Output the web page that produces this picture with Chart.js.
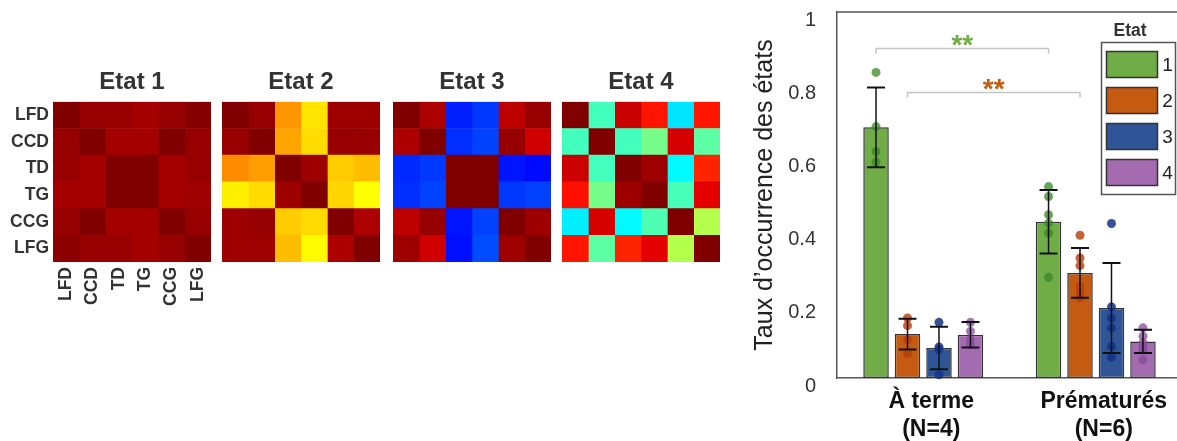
<!DOCTYPE html>
<html lang="fr">
<head>
<meta charset="utf-8">
<title>Etats - taux d'occurrence</title>
<script src="https://cdn.jsdelivr.net/npm/chart.js@4.4.0/dist/chart.umd.min.js"></script>
<style>
  html, body { margin: 0; padding: 0; background: #fff; width: 1177px; height: 441px; overflow: hidden; }
  canvas { position: absolute; }
</style>
</head>
<body>
<canvas id="etat1" width="211" height="242" style="left:0px;top:68px"></canvas>
<canvas id="etat2" width="158" height="242" style="left:222px;top:68px"></canvas>
<canvas id="etat3" width="158" height="242" style="left:393px;top:68px"></canvas>
<canvas id="etat4" width="158" height="242" style="left:562px;top:68px"></canvas>
<canvas id="taux" width="460" height="441" style="left:740px;top:0px"></canvas>
<script>
// Régions (lignes et colonnes des matrices)
var regions = ['LFD', 'CCD', 'TD', 'TG', 'CCG', 'LFG'];

var matEtat1 = [
    [1.000, 0.978, 0.978, 0.963, 0.978, 0.995],
    [0.978, 1.000, 0.963, 0.963, 1.000, 0.978],
    [0.978, 0.963, 1.000, 1.000, 0.963, 0.978],
    [0.963, 0.963, 1.000, 1.000, 0.963, 0.968],
    [0.978, 1.000, 0.963, 0.963, 1.000, 0.978],
    [0.988, 0.978, 0.978, 0.963, 0.978, 1.000]
];
var matEtat2 = [
    [1.000, 0.978, 0.728, 0.650, 0.970, 0.970],
    [0.975, 1.000, 0.713, 0.659, 0.978, 0.975],
    [0.738, 0.720, 1.000, 0.970, 0.675, 0.690],
    [0.640, 0.660, 0.970, 1.000, 0.665, 0.625],
    [0.970, 0.978, 0.675, 0.660, 1.000, 0.955],
    [0.970, 0.970, 0.690, 0.630, 0.955, 1.000]
];
var matEtat3 = [
    [1.000, 0.955, 0.155, 0.180, 0.940, 0.978],
    [0.955, 1.000, 0.170, 0.190, 0.978, 0.920],
    [0.165, 0.180, 1.000, 1.000, 0.145, 0.135],
    [0.170, 0.190, 1.000, 1.000, 0.180, 0.190],
    [0.940, 0.978, 0.145, 0.190, 1.000, 0.970],
    [0.970, 0.920, 0.140, 0.200, 0.970, 1.000]
];
var matEtat4 = [
    [1.000, 0.440, 0.929, 0.855, 0.350, 0.855],
    [0.440, 1.000, 0.440, 0.490, 0.915, 0.465],
    [0.925, 0.440, 1.000, 0.970, 0.370, 0.840],
    [0.860, 0.490, 0.970, 1.000, 0.445, 0.900],
    [0.360, 0.915, 0.370, 0.450, 1.000, 0.550],
    [0.855, 0.465, 0.840, 0.900, 0.550, 1.000]
];

// Taux d'occurrence des états
var groupes = [['À terme', '(N=4)'], ['Prématurés', '(N=6)']];
var etats = ['1', '2', '3', '4'];
var moyennes = [[0.685, 0.427], [0.120, 0.287], [0.082, 0.191], [0.118, 0.100]];
var ecarts = [[0.109, 0.087], [0.042, 0.068], [0.058, 0.123], [0.035, 0.032]];
// Valeurs individuelles (par état)
var sujetsTerme = [
    [0.835, 0.687, 0.619, 0.590],
    [0.164, 0.143, 0.105, 0.066],
    [0.152, 0.085, 0.078, 0.009],
    [0.152, 0.128, 0.105, 0.091]
];
var sujetsPremat = [
    [0.523, 0.496, 0.446, 0.423, 0.396, 0.275],
    [0.390, 0.328, 0.307, 0.250, 0.232, 0.219],
    [0.422, 0.194, 0.164, 0.137, 0.086, 0.057],
    [0.137, 0.114, 0.096, 0.085, 0.077, 0.050]
];
// Comparaisons significatives (état, hauteur du crochet)
var signif = [{ etat: 0, niveau: 0.90, texte: '**' }, { etat: 1, niveau: 0.78, texte: '**' }];

var couleurs = ['#70AD47', '#C55A11', '#2F5597', '#A56BB1'];
var couleursPoints = ['rgba(55,135,35,0.75)', 'rgba(185,60,10,0.8)', 'rgba(20,50,135,0.85)', 'rgba(135,75,155,0.75)'];

var police = "'Liberation Sans', Arial, sans-serif";
Chart.defaults.font.family = police;

// Palette jet
function jet(v) {
    var c = function(t) { return Math.round(255 * Math.max(0, Math.min(1, 1.5 - Math.abs(t)))); };
    return 'rgb(' + c(4 * v - 3) + ',' + c(4 * v - 2) + ',' + c(4 * v - 1) + ')';
}

// Une matrice = barres horizontales empilées, une cellule par segment
function heatmap(id, titre, matrice, axes) {
    new Chart(document.getElementById(id), {
        type: 'bar',
        data: {
            labels: regions,
            datasets: regions.map(function(r, j) {
                return {
                    label: r,
                    data: regions.map(function() { return 1; }),
                    backgroundColor: matrice.map(function(ligne) { return jet(ligne[j]); }),
                    borderWidth: 0,
                    barPercentage: 1,
                    categoryPercentage: 1
                };
            })
        },
        options: {
            indexAxis: 'y',
            responsive: false,
            animation: false,
            devicePixelRatio: 1,
            layout: { padding: { bottom: axes ? 0 : 48 } },
            plugins: {
                legend: { display: false },
                tooltip: { enabled: false },
                title: {
                    display: true, text: titre, fullSize: false, color: '#333',
                    font: { size: 24, weight: 'bold' }, padding: { top: 0, bottom: 5 }
                }
            },
            scales: {
                x: {
                    stacked: true, min: 0, max: regions.length, display: axes,
                    grid: { display: false, drawTicks: false }, border: { display: false },
                    afterBuildTicks: function(s) { s.ticks = regions.map(function(_, j) { return { value: j + 0.5 }; }); },
                    afterFit: function(s) {
                        s.height = axes ? 48 : 0;
                        s.paddingLeft = 0; s.paddingRight = 0;
                    },
                    ticks: {
                        autoSkip: false, minRotation: 90, maxRotation: 90, padding: 5, color: '#333',
                        font: { size: 17.5, weight: 'bold' },
                        callback: function(v, i) { return regions[i]; }
                    }
                },
                y: {
                    stacked: true, display: axes,
                    grid: { display: false, drawTicks: false }, border: { display: false },
                    afterFit: function(s) {
                        s.width = axes ? 53 : 0;
                        s.paddingTop = 0; s.paddingBottom = 0;
                    },
                    ticks: { padding: 4, color: '#333', font: { size: 17.5, weight: 'bold' } }
                }
            }
        }
    });
}

heatmap('etat1', 'Etat 1', matEtat1, true);
heatmap('etat2', 'Etat 2', matEtat2, false);
heatmap('etat3', 'Etat 3', matEtat3, false);
heatmap('etat4', 'Etat 4', matEtat4, false);

// Points, barres d'erreur, crochets et légende
var extras = {
    id: 'extras',
    afterDatasetsDraw: function(chart) {
        var ctx = chart.ctx, a = chart.chartArea, y = chart.scales.y;
        ctx.save();
        [sujetsTerme, sujetsPremat].forEach(function(groupe, g) {
            groupe.forEach(function(valeurs, e) {
                var x = chart.getDatasetMeta(e).data[g].x;
                ctx.fillStyle = couleursPoints[e];
                valeurs.forEach(function(v) {
                    ctx.beginPath();
                    ctx.arc(x, y.getPixelForValue(v), 4.5, 0, 2 * Math.PI);
                    ctx.fill();
                });
            });
        });
        ctx.strokeStyle = '#111';
        moyennes.forEach(function(m, e) {
            m.forEach(function(v, g) {
                var x = chart.getDatasetMeta(e).data[g].x;
                var haut = y.getPixelForValue(v + ecarts[e][g]);
                var bas = y.getPixelForValue(v - ecarts[e][g]);
                ctx.lineWidth = 1.5;
                ctx.beginPath(); ctx.moveTo(x, haut); ctx.lineTo(x, bas); ctx.stroke();
                ctx.lineWidth = 2;
                ctx.beginPath();
                ctx.moveTo(x - 9, haut); ctx.lineTo(x + 9, haut);
                ctx.moveTo(x - 9, bas); ctx.lineTo(x + 9, bas);
                ctx.stroke();
            });
        });
        signif.forEach(function(s) {
            var meta = chart.getDatasetMeta(s.etat);
            var x1 = meta.data[0].x, x2 = meta.data[1].x, yy = y.getPixelForValue(s.niveau);
            ctx.strokeStyle = '#c4c4c4';
            ctx.lineWidth = 1.5;
            ctx.beginPath();
            ctx.moveTo(x1, yy + 5); ctx.lineTo(x1, yy); ctx.lineTo(x2, yy); ctx.lineTo(x2, yy + 5);
            ctx.stroke();
            ctx.fillStyle = couleurs[s.etat];
            ctx.font = 'bold 28px ' + police;
            ctx.textAlign = 'center';
            ctx.textBaseline = 'alphabetic';
            var m = ctx.measureText(s.texte);
            var centre = yy - 8;
            ctx.fillText(s.texte, (x1 + x2) / 2, centre + (m.actualBoundingBoxAscent - m.actualBoundingBoxDescent) / 2);
        });
        ctx.strokeStyle = '#555';
        ctx.lineWidth = 1.5;
        ctx.beginPath(); ctx.moveTo(a.left, a.top); ctx.lineTo(a.right, a.top); ctx.stroke();
        ctx.restore();
    },
    afterDraw: function(chart) {
        var ctx = chart.ctx;
        var gauche = 361.5, haut = 42.5;
        ctx.save();
        ctx.fillStyle = '#333';
        ctx.textAlign = 'center';
        ctx.textBaseline = 'middle';
        ctx.font = 'bold 17.5px ' + police;
        ctx.fillText('Etat', 390, 31);
        ctx.fillStyle = '#fff';
        ctx.fillRect(gauche, haut, 74, 152);
        ctx.strokeStyle = '#555';
        ctx.lineWidth = 1.5;
        ctx.strokeRect(gauche, haut, 74, 152);
        ctx.font = '19px ' + police;
        etats.forEach(function(t, e) {
            var yy = haut + 9 + e * 36;
            ctx.fillStyle = couleurs[e];
            ctx.fillRect(gauche + 5, yy, 51, 26);
            ctx.strokeStyle = '#333';
            ctx.strokeRect(gauche + 5, yy, 51, 26);
            ctx.fillStyle = '#222';
            ctx.fillText(t, gauche + 66, yy + 14);
        });
        ctx.restore();
    }
};

new Chart(document.getElementById('taux'), {
    type: 'bar',
    data: {
        labels: groupes,
        datasets: etats.map(function(t, e) {
            return {
                label: t,
                data: moyennes[e],
                backgroundColor: couleurs[e],
                borderColor: '#333',
                borderWidth: 1.5,
                borderSkipped: false,
                categoryPercentage: 0.73,
                barPercentage: 0.81
            };
        })
    },
    options: {
        responsive: false,
        animation: false,
        devicePixelRatio: 1,
        layout: { padding: { top: 12, right: 18 } },
        plugins: { legend: { display: false }, tooltip: { enabled: false } },
        scales: {
            x: {
                grid: { display: false, drawTicks: false },
                border: { color: '#555', width: 1.5 },
                afterFit: function(s) { s.height = 63; s.paddingLeft = 0; s.paddingRight = 0; },
                ticks: { padding: 9, labelOffset: 8, color: '#111', font: { size: 23, weight: 'bold', lineHeight: 1.25 } }
            },
            y: {
                min: 0, max: 1,
                grid: { display: false, drawTicks: false },
                border: { color: '#555', width: 1.5 },
                afterFit: function(s) { s.width = 97; s.paddingTop = 0; s.paddingBottom = 0; },
                ticks: {
                    stepSize: 0.2, padding: 21, labelOffset: 8, color: '#333', font: { size: 20 },
                    callback: function(v) { return String(Math.round(v * 10) / 10); }
                },
                title: {
                    display: true, text: 'Taux d’occurrence des états', color: '#222',
                    font: { size: 25 }, padding: { top: 10, bottom: 0 }
                }
            }
        }
    },
    plugins: [extras]
});
</script>
</body>
</html>
